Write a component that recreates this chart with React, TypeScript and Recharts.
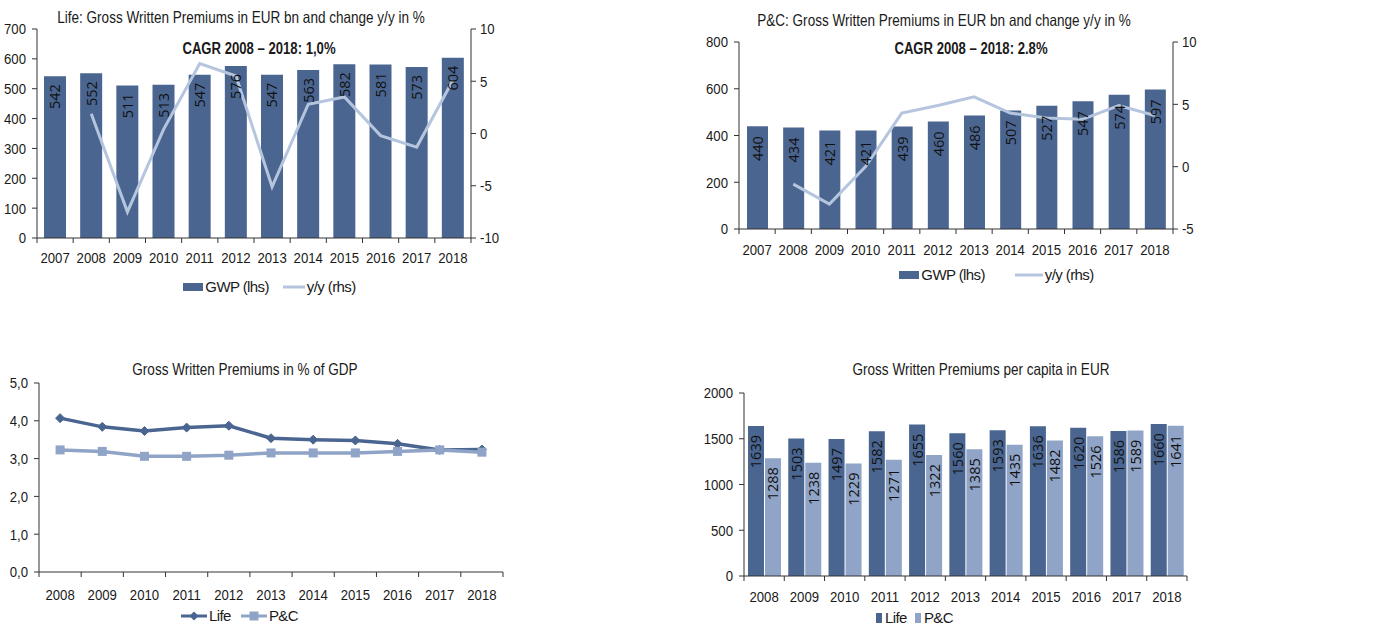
import React from 'react';
import {
  ComposedChart, BarChart, LineChart, Bar, Line, XAxis, YAxis, Legend, LabelList,
} from 'recharts';

// ---------- data ----------
const yearsA = ['2007', '2008', '2009', '2010', '2011', '2012', '2013', '2014', '2015', '2016', '2017', '2018'];
const lifeGwp = [542, 552, 511, 513, 547, 576, 547, 563, 582, 581, 573, 604];
const lifeYy: (number | null)[] = [null, 1.9, -7.5, 0.4, 6.7, 5.5, -5.1, 2.8, 3.5, -0.2, -1.3, 5.1];
const pcGwp = [440, 434, 421, 421, 439, 460, 486, 507, 527, 547, 574, 597];
const pcYy: (number | null)[] = [null, -1.4, -3.0, 0.0, 4.3, 4.9, 5.6, 4.3, 3.9, 3.8, 4.9, 4.1];

const yearsB = ['2008', '2009', '2010', '2011', '2012', '2013', '2014', '2015', '2016', '2017', '2018'];
const gdpLife = [4.07, 3.84, 3.73, 3.82, 3.87, 3.54, 3.5, 3.48, 3.39, 3.23, 3.24];
const gdpPc = [3.23, 3.19, 3.06, 3.06, 3.09, 3.15, 3.15, 3.15, 3.19, 3.23, 3.17];
const capLife = [1639, 1503, 1497, 1582, 1655, 1560, 1593, 1636, 1620, 1586, 1660];
const capPc = [1288, 1238, 1229, 1271, 1322, 1385, 1435, 1482, 1526, 1589, 1641];

const lifeLeftTicks = [0, 100, 200, 300, 400, 500, 600, 700];
const lifeRightTicks = [-10, -5, 0, 5, 10];
const pcLeftTicks = [0, 200, 400, 600, 800];
const pcRightTicks = [-5, 0, 5, 10];
const gdpTicks = [0, 1, 2, 3, 4, 5];
const capTicks = [0, 500, 1000, 1500, 2000];

const lifeData = yearsA.map((y, i) => ({ year: y, gwp: lifeGwp[i], yy: lifeYy[i] }));
const pcData = yearsA.map((y, i) => ({ year: y, gwp: pcGwp[i], yy: pcYy[i] }));
const gdpData = yearsB.map((y, i) => ({ year: y, life: gdpLife[i], pc: gdpPc[i] }));
const capData = yearsB.map((y, i) => ({ year: y, life: capLife[i], pc: capPc[i] }));

// ---------- styles ----------
const FONT = "'Liberation Sans', Arial, sans-serif";
const LABEL_FONT = "'Open Sans', sans-serif";
const AXIS = '#333333';
const DARK = '#4a6590';
const LIGHT = '#8fa4c6';
const YY = '#b5c5de';
const TXT = '#1a1a1a';
const SQUEEZE = 0.85;

const makeXTick = (step: number, n: number, dy: number) => (props: any) => {
  const { x, y, payload, index } = props;
  return (
    <g>
      <line x1={x - step / 2} x2={x - step / 2} y1={y} y2={y + 5} stroke={AXIS} />
      {index === n - 1 && <line x1={x + step / 2} x2={x + step / 2} y1={y} y2={y + 5} stroke={AXIS} />}
      <text x={x} y={y + dy} textAnchor="middle" dominantBaseline="central" fontFamily={FONT} fontSize={15.5} fill={TXT}
        style={{ transform: `scaleX(${SQUEEZE})`, transformBox: 'fill-box', transformOrigin: 'center' } as any}>
        {payload.value}
      </text>
    </g>
  );
};

const makeYTick = (anchor: 'start' | 'end', fmt?: (v: number) => string) => (props: any) => {
  const { x, y, payload } = props;
  const v = fmt ? fmt(payload.value) : String(payload.value);
  return (
    <text x={x} y={y} textAnchor={anchor} dominantBaseline="central" fontFamily={FONT} fontSize={15.5} fill={TXT}
      style={{ transform: `scaleX(${SQUEEZE})`, transformBox: 'fill-box', transformOrigin: anchor === 'end' ? 'right center' : 'left center' } as any}>
      {v}
    </text>
  );
};

const makeRotLabel = (offset: number) => (props: any) => {
  const { x, y, width, value } = props;
  const cx = Number(x) + Number(width) / 2;
  const ty = Number(y) + offset;
  return (
    <text x={cx} y={ty} transform={`rotate(-90 ${cx} ${ty})`} textAnchor="end" dominantBaseline="central"
      fontFamily={LABEL_FONT} fontSize={14.5} fill="#111">
      {value}
    </text>
  );
};

const Diamond = (props: any) => {
  const { cx, cy } = props;
  if (cx == null || cy == null) return null;
  const r = 4.5;
  return <path d={`M${cx},${cy - r}L${cx + r},${cy}L${cx},${cy + r}L${cx - r},${cy}Z`} fill={DARK} stroke={DARK} />;
};
const Square = (props: any) => {
  const { cx, cy } = props;
  if (cx == null || cy == null) return null;
  const s = 9;
  return <rect x={cx - s / 2} y={cy - s / 2} width={s} height={s} fill={LIGHT} />;
};

type IconKind = 'rect' | 'smallrect' | 'line' | 'line28' | 'diamond' | 'square';
const Icon = ({ kind, color }: { kind: IconKind; color: string }) => {
  if (kind === 'rect') return <svg width={20} height={10}><rect x={0} y={1} width={20} height={8} fill={color} /></svg>;
  if (kind === 'smallrect') return <svg width={7} height={12}><rect x={0} y={1} width={6} height={10} fill={color} /></svg>;
  if (kind === 'line') return <svg width={22} height={10}><line x1={0} x2={22} y1={5} y2={5} stroke={color} strokeWidth={3} /></svg>;
  if (kind === 'line28') return <svg width={28} height={10}><line x1={0} x2={28} y1={5} y2={5} stroke={color} strokeWidth={3} /></svg>;
  if (kind === 'diamond')
    return <svg width={26} height={12}><line x1={0} x2={26} y1={6} y2={6} stroke={color} strokeWidth={3} /><path d="M13,1.5L17.5,6L13,10.5L8.5,6Z" fill={color} /></svg>;
  return <svg width={26} height={12}><line x1={0} x2={26} y1={6} y2={6} stroke={color} strokeWidth={3} /><rect x={8.5} y={1.5} width={9} height={9} fill={color} /></svg>;
};

const makeLegend = (icons: Record<string, IconKind>, shift: number, height: number, gap: number) => (props: any) => {
  const payload = props.payload || [];
  return (
    <div style={{ display: 'flex', justifyContent: 'center', alignItems: 'center', height, transform: `translateX(${shift}px)`, gap }}>
      {payload.map((p: any) => (
        <div key={p.dataKey} style={{ display: 'flex', alignItems: 'center', gap: 2 }}>
          <Icon kind={icons[p.dataKey]} color={p.color} />
          <span style={{ fontFamily: FONT, fontSize: 15, color: TXT, letterSpacing: '-0.6px', lineHeight: '16px' }}>{p.value}</span>
        </div>
      ))}
    </div>
  );
};

const Title = ({ cx, cy, text, bold }: { cx: number; cy: number; text: string; bold?: boolean }) => (
  <div style={{
    position: 'absolute', left: cx - 300, top: cy - 10, width: 600, height: 20, lineHeight: '20px', textAlign: 'center',
    fontFamily: FONT, fontSize: bold ? 16 : 16.5, fontWeight: bold ? 700 : 400, color: TXT, whiteSpace: 'nowrap',
    transform: `scaleX(${bold ? 0.82 : 0.82})`,
  }}>{text}</div>
);

const gdpFmt = (v: number) => v.toFixed(1).replace('.', ',');

// ---------- charts ----------
const LifeChart = () => (
  <ComposedChart width={520} height={301} data={lifeData} margin={{ top: 29, right: 9, left: 0, bottom: 0 }}>
    <XAxis dataKey="year" xAxisId="x" height={35} interval={0} tickLine={false} tickSize={0} tickMargin={0}
      stroke={AXIS} tick={makeXTick(434 / 12, 12, 20)} />
    <YAxis yAxisId="l" width={37} domain={[0, 700]} ticks={lifeLeftTicks} interval={0} stroke={AXIS}
      tickSize={5} tickMargin={6} tick={makeYTick('end')} />
    <YAxis yAxisId="r" orientation="right" width={40} domain={[-10, 10]} ticks={lifeRightTicks} interval={0} stroke={AXIS}
      tickSize={5} tickMargin={4} tick={makeYTick('start')} />
    <Legend verticalAlign="bottom" height={28} content={makeLegend({ gwp: 'rect', yy: 'line' }, 14, 28, 14)} />
    <Bar xAxisId="x" yAxisId="l" dataKey="gwp" name="GWP (lhs)" fill={DARK} barSize={22} isAnimationActive={false}>
      <LabelList dataKey="gwp" content={makeRotLabel(8)} />
    </Bar>
    <Line xAxisId="x" yAxisId="r" dataKey="yy" name="y/y (rhs)" stroke={YY} strokeWidth={3} dot={false}
      connectNulls={false} isAnimationActive={false} />
  </ComposedChart>
);

const PcChart = () => (
  <ComposedChart width={520} height={288} data={pcData} margin={{ top: 42, right: 7, left: 0, bottom: 0 }}>
    <XAxis dataKey="year" xAxisId="x" height={33} interval={0} tickLine={false} tickSize={0} tickMargin={0}
      stroke={AXIS} tick={makeXTick(434 / 12, 12, 21)} />
    <YAxis yAxisId="l" width={49} domain={[0, 800]} ticks={pcLeftTicks} interval={0} stroke={AXIS}
      tickSize={5} tickMargin={6} tick={makeYTick('end')} />
    <YAxis yAxisId="r" orientation="right" width={30} domain={[-5, 10]} ticks={pcRightTicks} interval={0} stroke={AXIS}
      tickSize={5} tickMargin={4} tick={makeYTick('start')} />
    <Legend verticalAlign="bottom" height={26} content={makeLegend({ gwp: 'rect', yy: 'line28' }, 50, 26, 30)} />
    <Bar xAxisId="x" yAxisId="l" dataKey="gwp" name="GWP (lhs)" fill={DARK} barSize={21} isAnimationActive={false}>
      <LabelList dataKey="gwp" content={makeRotLabel(10)} />
    </Bar>
    <Line xAxisId="x" yAxisId="r" dataKey="yy" name="y/y (rhs)" stroke={YY} strokeWidth={3} dot={false}
      isAnimationActive={false} />
  </ComposedChart>
);

const GdpChart = () => (
  <LineChart width={520} height={276} data={gdpData} margin={{ top: 33, right: 17, left: 0, bottom: 0 }}>
    <XAxis dataKey="year" scale="band" height={34} interval={0} tickLine={false} tickSize={0} tickMargin={0}
      stroke={AXIS} tick={makeXTick(464 / 11, 11, 23)} />
    <YAxis width={39} domain={[0, 5]} ticks={gdpTicks} interval={0} stroke={AXIS} tickSize={5} tickMargin={6}
      tick={makeYTick('end', gdpFmt)} />
    <Legend verticalAlign="bottom" height={20} content={makeLegend({ life: 'diamond', pc: 'square' }, -12, 20, 10)} />
    <Line dataKey="life" name="Life" stroke={DARK} strokeWidth={3.5} dot={<Diamond />} isAnimationActive={false} />
    <Line dataKey="pc" name="P&C" stroke={LIGHT} strokeWidth={3.5} dot={<Square />} isAnimationActive={false} />
  </LineChart>
);

const CapChart = () => (
  <BarChart width={520} height={277} data={capData} margin={{ top: 43, right: 23, left: 0, bottom: 0 }} barGap={1}>
    <XAxis dataKey="year" height={33} interval={0} tickLine={false} tickSize={0} tickMargin={0}
      stroke={AXIS} tick={makeXTick(443 / 11, 11, 21)} />
    <YAxis width={54} domain={[0, 2000]} ticks={capTicks} interval={0} stroke={AXIS} tickSize={5} tickMargin={6}
      tick={makeYTick('end')} />
    <Legend verticalAlign="bottom" height={18} content={makeLegend({ life: 'smallrect', pc: 'smallrect' }, -24, 18, 8)} />
    <Bar dataKey="life" name="Life" fill={DARK} barSize={16} isAnimationActive={false}>
      <LabelList dataKey="life" content={makeRotLabel(9)} />
    </Bar>
    <Bar dataKey="pc" name="P&C" fill={LIGHT} barSize={16} isAnimationActive={false}>
      <LabelList dataKey="pc" content={makeRotLabel(9)} />
    </Bar>
  </BarChart>
);

export default function App() {
  return (
    <div style={{ position: 'absolute', left: 0, top: 0, width: 1377, height: 627, background: '#fff', overflow: 'hidden' }}>
      <div style={{ position: 'absolute', left: 0, top: 0 }}><LifeChart /></div>
      <div style={{ position: 'absolute', left: 690, top: 0 }}><PcChart /></div>
      <div style={{ position: 'absolute', left: 0, top: 350 }}><GdpChart /></div>
      <div style={{ position: 'absolute', left: 690, top: 350 }}><CapChart /></div>
      <Title cx={241} cy={17} text="Life: Gross Written Premiums in EUR bn and change y/y in %" />
      <Title cx={259} cy={49} text="CAGR 2008 – 2018: 1,0%" bold />
      <Title cx={944} cy={20} text="P&C: Gross Written Premiums in EUR bn and change y/y in %" />
      <Title cx={971} cy={49} text="CAGR 2008 – 2018: 2.8%" bold />
      <Title cx={245} cy={369} text="Gross Written Premiums in % of GDP" />
      <Title cx={981} cy={369} text="Gross Written Premiums per capita in EUR" />
    </div>
  );
}
